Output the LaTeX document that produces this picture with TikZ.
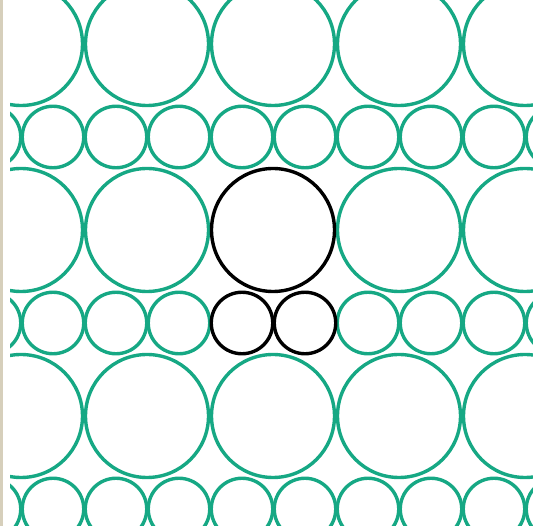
\documentclass[tikz,border=0pt]{standalone}
\usetikzlibrary{positioning}

\definecolor{ringgreen}{RGB}{22,168,132}
\definecolor{framegrey}{RGB}{214,207,187}

\begin{document}
\begin{tikzpicture}[
    x=1pt,y=-1pt,
    bigring/.style={circle,draw=ringgreen,line width=3.4pt,inner sep=0pt,minimum size=123pt},
    smallring/.style={circle,draw=ringgreen,line width=3.4pt,inner sep=0pt,minimum size=61.5pt},
    picked/.style={draw=black}
    ]
    \useasboundingbox (0,0) rectangle (533,526);
    \fill[framegrey] (0,0) rectangle (3,526);

    \begin{scope}
      \clip (10,0) rectangle (533,526);

      % big rings
      \foreach \i in {0,...,4}
        \foreach \j in {0,1,2} {
          \ifnum\i\j=21 \else
            \node (b\i\j) [bigring] at (21+126*\i, 44+186*\j) {};
          \fi
        }

      % small rings
      \foreach \k in {0,...,9}
        \foreach \j in {0,1,2} {
          \ifnum\k\j=41 \else \ifnum\k\j=51 \else
            \node (s\k\j) [smallring] at (-10+63*\k, 137+186*\j) {};
          \fi\fi
        }
    \end{scope}

    \node (top) [bigring,picked] at (273,230) {};
    \node (left) [smallring,picked] at (242,323) {};
    \node (right) [smallring,picked] at (305,323) {};

  \end{tikzpicture}
\end{document}
